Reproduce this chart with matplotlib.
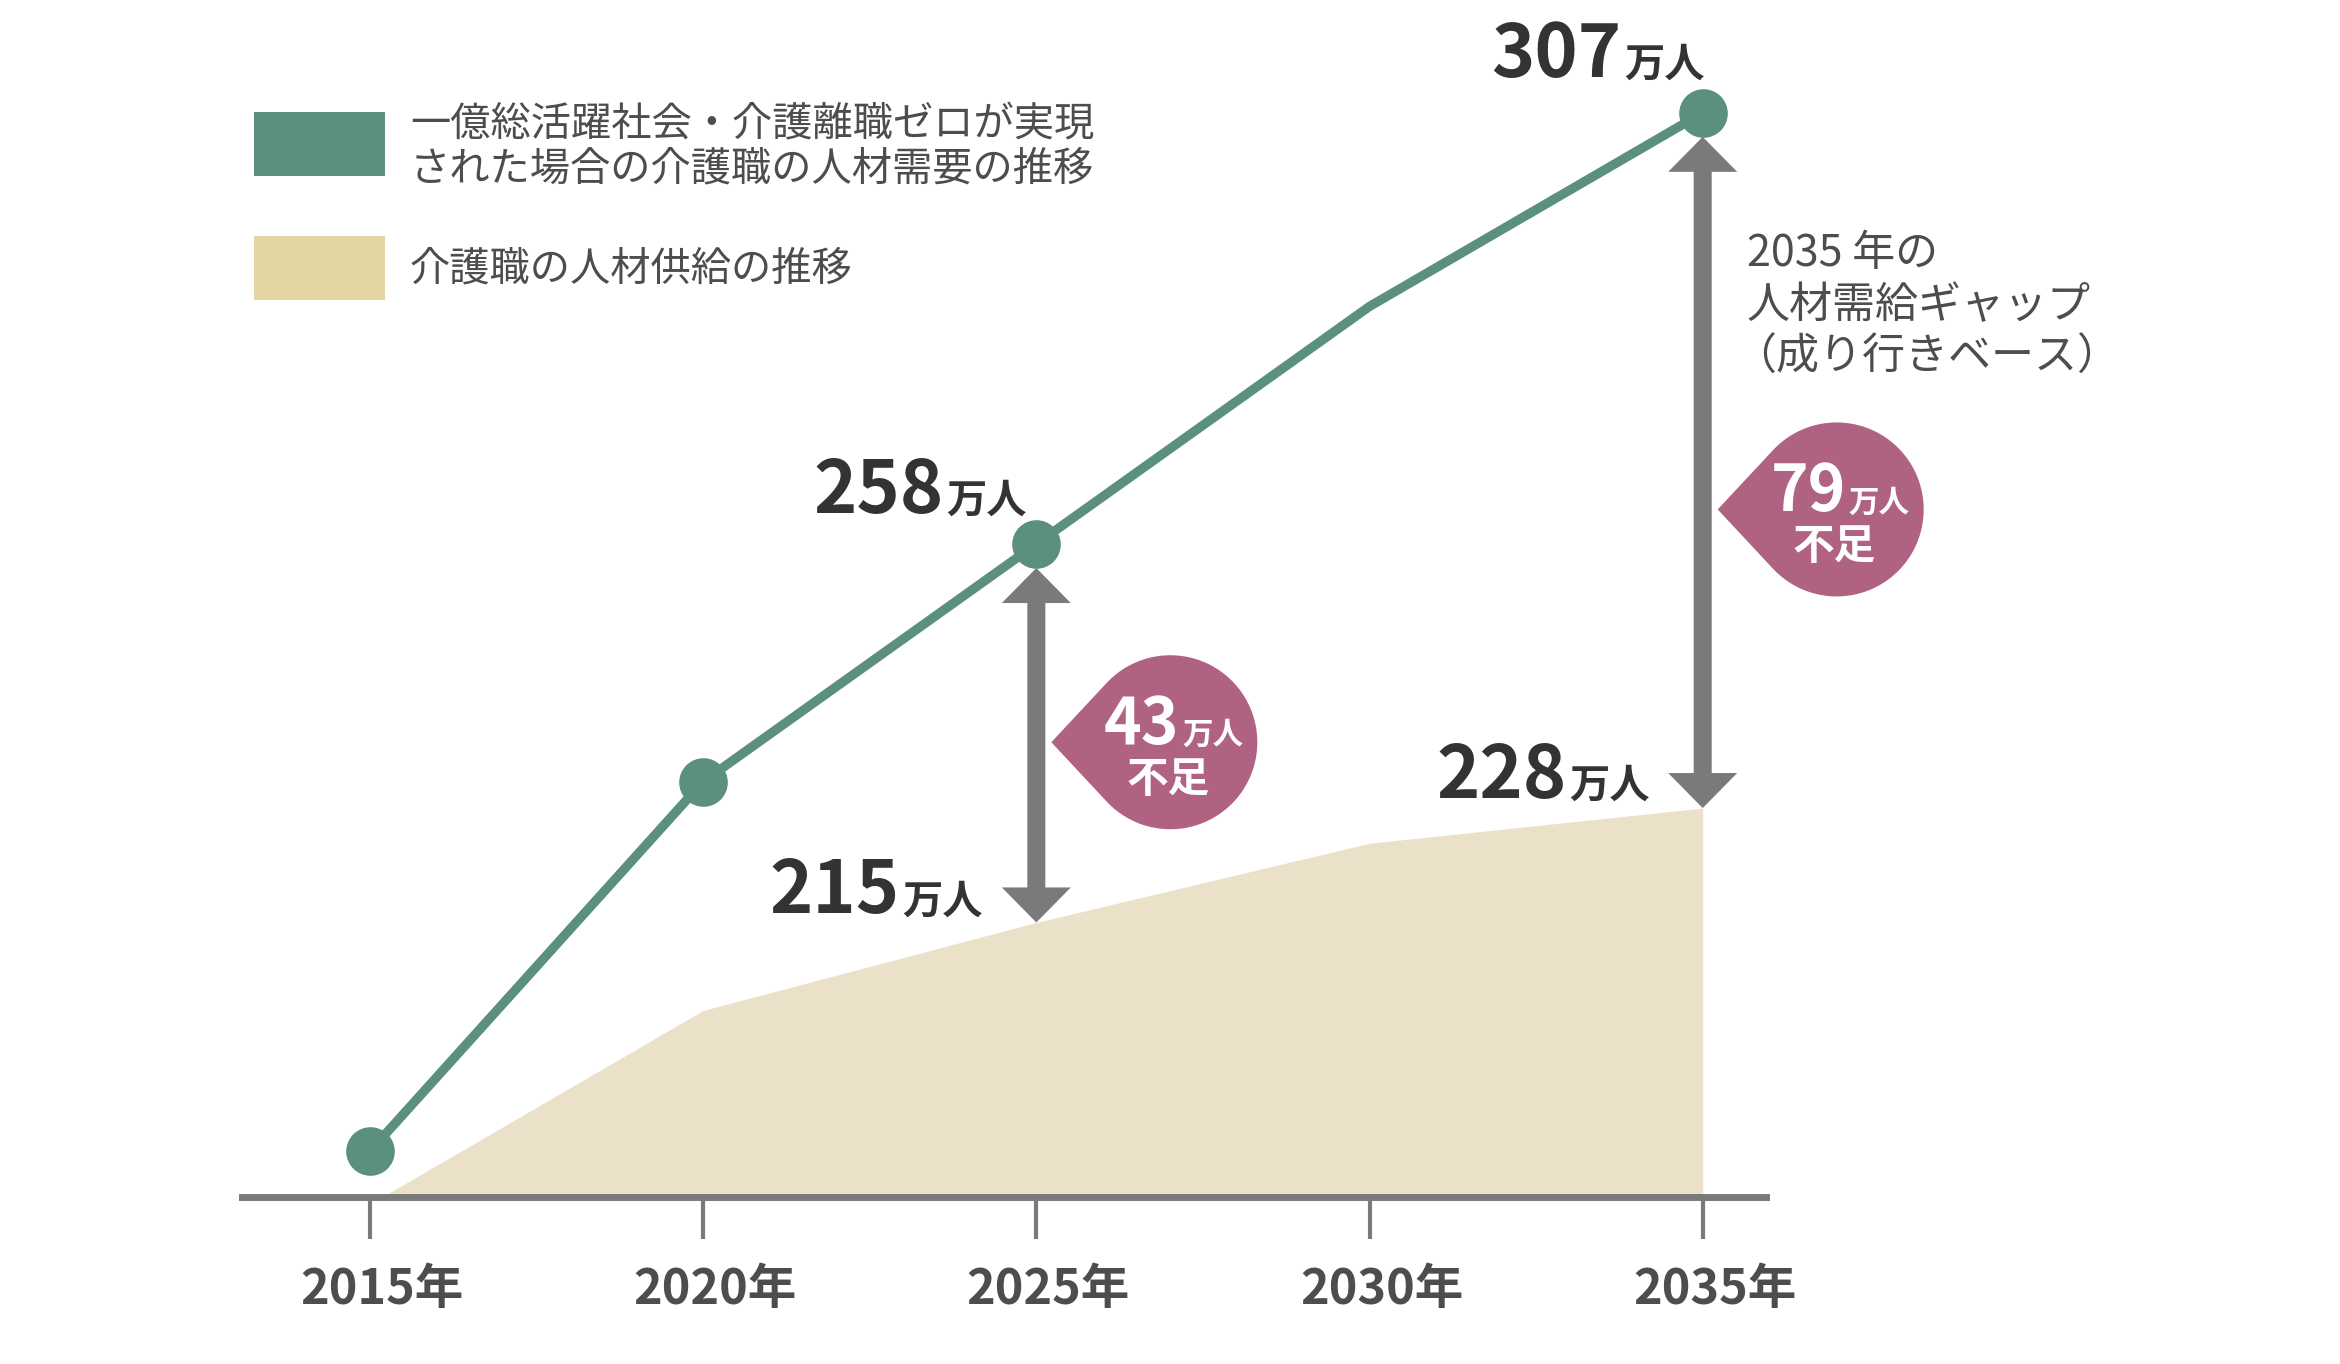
import numpy as np
import matplotlib
matplotlib.use("Agg")
import matplotlib.pyplot as plt
import matplotlib.transforms as mtransforms
from matplotlib.path import Path
from matplotlib.patches import PathPatch, Rectangle, Polygon

plt.rcParams['font.family'] = ['Noto Sans CJK JP', 'DejaVu Sans']

# ---------------- data ----------------
years = [2015, 2020, 2025, 2030, 2035]
tick_labels = ['2015年', '2020年', '2025年', '2030年', '2035年']
demand = [189, 231, 258, 285, 307]      # 万人 (介護職の人材需要)
supply = [183, 205, 215, 224, 228]      # 万人 (介護職の人材供給)
demand_marker_idx = [0, 1, 2, 4]
gap_years = [2025, 2035]
gap_demand = [258, 307]
gap_supply = [215, 228]
gap_values = [43, 79]
unit = '万人'
short_word = '不足'
legend_labels = ['一億総活躍社会・介護離職ゼロが実現', 'された場合の介護職の人材需要の推移', '介護職の人材供給の推移']
note_lines = ['2035 年の', '人材需給ギャップ', '（成り行きベース）']

# ---------------- style ----------------
GREEN = '#5a907d'
BEIGE_AREA = '#ebe1c9'
BEIGE_LEG = '#e4d5a5'
GRAY = '#7a7a7a'
PINK = '#b06283'
DARK = '#333333'
TXT = '#4d4d4d'

W, H = 2340, 1364
fig = plt.figure(figsize=(W / 100, H / 100), dpi=100)
fig.patch.set_facecolor('white')

ybase = 183.8
kpx = 8.8
ax = fig.add_axes([242 / W, 1 - 1197 / H, (1766 - 242) / W, 1197 / H])
ax.set_xlim(2013.08, 2035.95)
ax.set_ylim(ybase, ybase + 1197 / kpx)
ax.patch.set_visible(False)
for s in ['top', 'left', 'right']:
    ax.spines[s].set_visible(False)
ax.spines['bottom'].set_color(GRAY)
ax.spines['bottom'].set_linewidth(5)
ax.spines['bottom'].set_zorder(6)
ax.set_yticks([])
ax.set_xticks(years, tick_labels)
ax.tick_params(axis='x', length=30, width=3, color=GRAY, pad=19,
               labelsize=35, labelcolor=TXT)
off = mtransforms.ScaledTranslation(0.12, 0, fig.dpi_scale_trans)
for lbl in ax.get_xticklabels():
    lbl.set_fontweight('bold')
    lbl.set_transform(lbl.get_transform() + off)

# supply area
ax.fill_between(years, supply, ybase - 50, color=BEIGE_AREA, lw=0, zorder=1)

# demand line + markers
ax.plot(years, demand, color=GREEN, lw=6.7, zorder=4, solid_joinstyle='round',
        marker='o', markevery=demand_marker_idx, markersize=35,
        markeredgewidth=0, markerfacecolor=GREEN)

# unit conversions
x_per_px = 1 / (ax.transData.transform((1, 0))[0] - ax.transData.transform((0, 0))[0])
y_per_px = 1 / (ax.transData.transform((0, 1))[1] - ax.transData.transform((0, 0))[1])

# double-headed arrows
sw, hw, hl, gap_px = 9, 34.5, 35, 24
arrow_mid = []
for x0, yd, ys in zip(gap_years, gap_demand, gap_supply):
    yt = yd - gap_px * y_per_px
    yb = ys
    dx_s, dx_h, dy_h = sw * x_per_px, hw * x_per_px, hl * y_per_px
    verts = [(x0, yt), (x0 + dx_h, yt - dy_h), (x0 + dx_s, yt - dy_h),
             (x0 + dx_s, yb + dy_h), (x0 + dx_h, yb + dy_h), (x0, yb),
             (x0 - dx_h, yb + dy_h), (x0 - dx_s, yb + dy_h),
             (x0 - dx_s, yt - dy_h), (x0 - dx_h, yt - dy_h)]
    ax.add_patch(Polygon(verts, closed=True, facecolor=GRAY, edgecolor='none', zorder=3))
    arrow_mid.append((yt + yb) / 2)

# teardrop bubbles
R, D = 87, 119
alpha = np.arccos(R / D)
angs = np.linspace(np.pi - alpha, -(np.pi - alpha), 120)
bub = [(-D, 0)] + [(R * np.cos(a), R * np.sin(a)) for a in angs] + [(-D, 0)]
bubble_dx = 134
bubble_dy = [3, -37]
for x0, ym, v, bdy in zip(gap_years, arrow_mid, gap_values, bubble_dy):
    verts = [(px + bubble_dx, py + bdy) for px, py in bub]
    tr = mtransforms.ScaledTranslation(x0, ym, ax.transData)
    path = Path(verts, [Path.MOVETO] + [Path.LINETO] * (len(verts) - 2) + [Path.CLOSEPOLY])
    ax.add_patch(PathPatch(path, facecolor=PINK, edgecolor='none', transform=tr,
                           zorder=5, clip_on=False))
    cx, cy = bubble_dx, bdy
    ax.annotate(str(v), xy=(x0, ym), xytext=(cx + 9, cy - 2), textcoords='offset pixels',
                ha='right', va='baseline', fontsize=46, fontweight='bold', color='white',
                zorder=7, annotation_clip=False)
    ax.annotate(unit, xy=(x0, ym), xytext=(cx + 12, cy - 2), textcoords='offset pixels',
                ha='left', va='baseline', fontsize=22, fontweight='bold', color='white',
                zorder=7, annotation_clip=False)
    ax.annotate(short_word, xy=(x0, ym), xytext=(cx - 2, cy - 38), textcoords='offset pixels',
                ha='center', va='center', fontsize=30, fontweight='bold', color='white',
                zorder=7, annotation_clip=False)

# value labels (number + unit)
def value_label(x, y, dx, dy):
    ax.annotate(f'{y}', xy=(x, y), xytext=(dx - 1, dy), textcoords='offset pixels',
                ha='right', va='baseline', fontsize=53, fontweight='bold', color=DARK,
                annotation_clip=False, zorder=8)
    ax.annotate(unit, xy=(x, y), xytext=(dx + 2, dy), textcoords='offset pixels',
                ha='left', va='baseline', fontsize=29, fontweight='bold', color=DARK,
                annotation_clip=False, zorder=8)

value_label(gap_years[0], gap_demand[0], -92, 31)
value_label(gap_years[1], gap_demand[1], -80, 36)
value_label(gap_years[0], gap_supply[0], -136, 9)
value_label(gap_years[1], gap_supply[1], -135, 10)

# legend (manual)
fig.patches.append(Rectangle((254 / W, 1 - 176 / H), 131 / W, 64 / H,
                             transform=fig.transFigure, facecolor=GREEN, edgecolor='none'))
fig.patches.append(Rectangle((254 / W, 1 - 300 / H), 131 / W, 64 / H,
                             transform=fig.transFigure, facecolor=BEIGE_LEG, edgecolor='none'))
for txt, yc in zip(legend_labels, [125, 169, 269]):
    fig.text(410 / W, 1 - yc / H, txt, ha='left', va='center', fontsize=29, color=TXT)

# note text
for txt, yc, xs in zip(note_lines, [254, 306, 358], [1747, 1747, 1733]):
    fig.text(xs / W, 1 - yc / H, txt, ha='left', va='center', fontsize=31, color=TXT)

fig.savefig('out.png', dpi=100, facecolor='white')
